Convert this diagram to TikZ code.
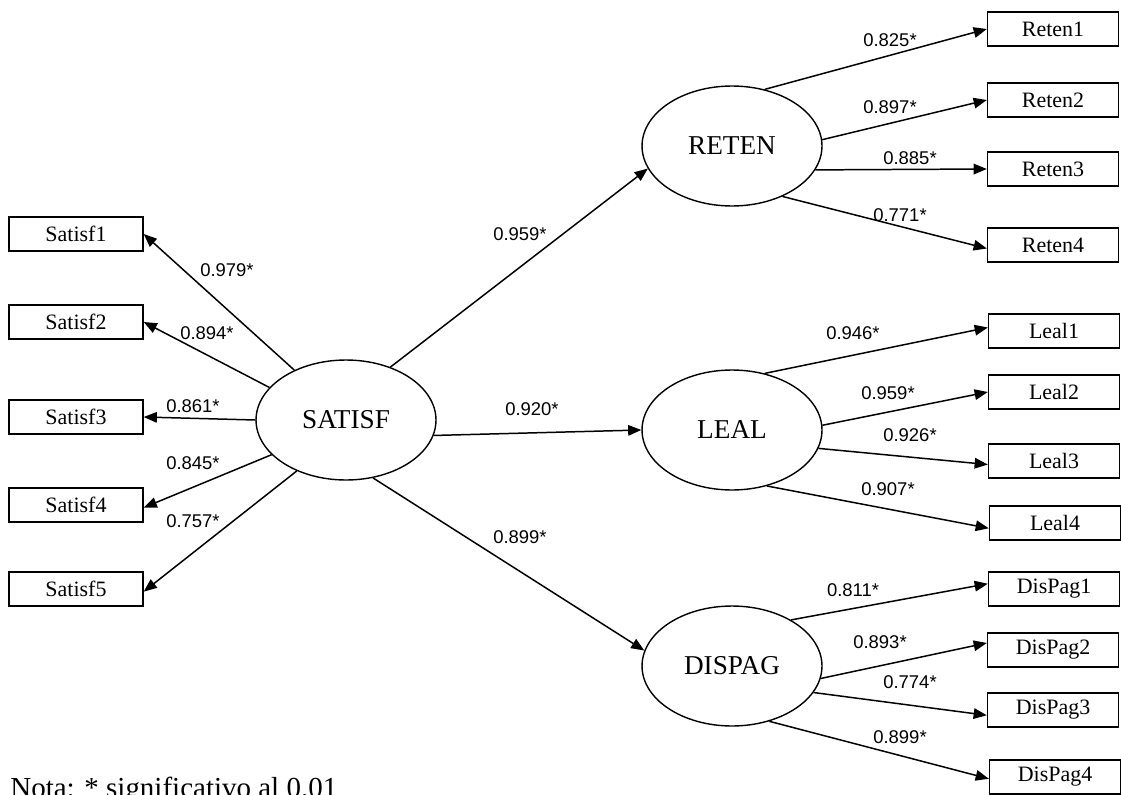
\documentclass[tikz,border=0pt]{standalone}
\usepackage{fontspec}
\setmainfont{Liberation Serif}
\setsansfont{Liberation Sans}
\usetikzlibrary{shapes.geometric,arrows.meta}

\tikzset{
  ind/.style={draw,line width=0.8pt,minimum width=2.62cm,minimum height=0.68cm,inner sep=0pt,font=\fontsize{12.5}{14}\selectfont},
  lat/.style={ellipse,draw,line width=0.8pt,minimum width=3.6cm,minimum height=2.4cm,inner sep=0pt,font=\fontsize{15.5}{18}\selectfont},
  carga/.style={inner sep=0pt,font=\sffamily\fontsize{10.5}{12}\selectfont},
  flecha/.style={-{Triangle[length=7.5pt,width=6pt]},line width=0.85pt}
}

\begin{document}
\begin{tikzpicture}[x=0.02cm,y=-0.02cm]
\useasboundingbox (0,0) rectangle (1121,794);
\clip (0,0) rectangle (1121,794);

% variables latentes
\node[lat] (satisf) at (346,420) {SATISF};
\node[lat] (reten) at (732,146) {RETEN};
\node[lat] (leal) at (732,430) {LEAL};
\node[lat] (dispag) at (732,666) {DISPAG};

% indicadores de SATISF
\node[ind,minimum width=2.68cm] (s1) at (76,234) {Satisf1};
\node[ind,minimum width=2.68cm] (s2) at (76,322) {Satisf2};
\node[ind,minimum width=2.68cm] (s3) at (76,417) {Satisf3};
\node[ind,minimum width=2.68cm] (s4) at (76,505) {Satisf4};
\node[ind,minimum width=2.68cm] (s5) at (76,589) {Satisf5};

% indicadores de RETEN
\node[ind] (r1) at (1053,29) {Reten1};
\node[ind] (r2) at (1053,100) {Reten2};
\node[ind] (r3) at (1053,169) {Reten3};
\node[ind] (r4) at (1053,245) {Reten4};

% indicadores de LEAL
\node[ind] (l1) at (1054,331) {Leal1};
\node[ind] (l2) at (1054,392) {Leal2};
\node[ind] (l3) at (1054,461) {Leal3};
\node[ind] (l4) at (1055,523) {Leal4};

% indicadores de DISPAG
\node[ind] (d1) at (1054,589) {DisPag1};
\node[ind] (d2) at (1053,650) {DisPag2};
\node[ind] (d3) at (1053,710) {DisPag3};
\node[ind] (d4) at (1055,777) {DisPag4};

% flechas
\draw[flecha] (satisf.136) -- (s1.east);
\draw[flecha] (satisf.157) -- (s2.east);
\draw[flecha] (satisf.180) -- (s3.east);
\draw[flecha] (satisf.205) -- ([yshift=-1.5pt]s4.east);
\draw[flecha] (satisf.226) -- ([yshift=-1.5pt]s5.east);

\draw[flecha] (satisf.50) -- (reten.195);
\draw[flecha] (satisf.-10) -- (leal.west);
\draw[flecha] (satisf.-65) -- (dispag.170);

\draw[flecha] (reten.60) -- (r1.west);
\draw[flecha] (reten.4) -- (r2.west);
\draw[flecha] (reten.-16) -- (r3.west);
\draw[flecha] (reten.-45) -- ([yshift=-2pt]r4.west);

\draw[flecha] (leal.60) -- ([yshift=2pt]l1.west);
\draw[flecha] (leal.3) -- (l2.west);
\draw[flecha] (leal.-12) -- ([yshift=-2pt]l3.west);
\draw[flecha] (leal.-58) -- ([yshift=-3pt]l4.west);

\draw[flecha] (dispag.38) -- ([yshift=3pt]d1.west);
\draw[flecha] (dispag.-8) -- ([yshift=4pt]d2.west);
\draw[flecha] (dispag.-18) -- ([yshift=-3pt]d3.west);
\draw[flecha] (dispag.-56) -- ([yshift=-1pt]d4.west);

% cargas
\node[carga] (cs1) at (227,270) {0.979*};
\node[carga] (cs2) at (207,333) {0.894*};
\node[carga] (cs3) at (193,406) {0.861*};
\node[carga] (cs4) at (193,463) {0.845*};
\node[carga] (cs5) at (193,521) {0.757*};

\node[carga] (cre) at (520,234) {0.959*};
\node[carga] (cle) at (532,409) {0.920*};
\node[carga] (cdi) at (520,537) {0.899*};

\node[carga] (cr1) at (890,40) {0.825*};
\node[carga] (cr2) at (890,107) {0.897*};
\node[carga] (cr3) at (910,158) {0.885*};
\node[carga] (cr4) at (900,215) {0.771*};

\node[carga] (cl1) at (853,333) {0.946*};
\node[carga] (cl2) at (888,393) {0.959*};
\node[carga] (cl3) at (910,435) {0.926*};
\node[carga] (cl4) at (888,489) {0.907*};

\node[carga] (cd1) at (853,590) {0.811*};
\node[carga] (cd2) at (880,642) {0.893*};
\node[carga] (cd3) at (910,682) {0.774*};
\node[carga] (cd4) at (900,737) {0.899*};

% nota
\node[anchor=base west,inner sep=0pt,font=\fontsize{16.5}{19}\selectfont] (nota) at (10,797) {Nota: * significativo al 0.01};

\end{tikzpicture}
\end{document}
